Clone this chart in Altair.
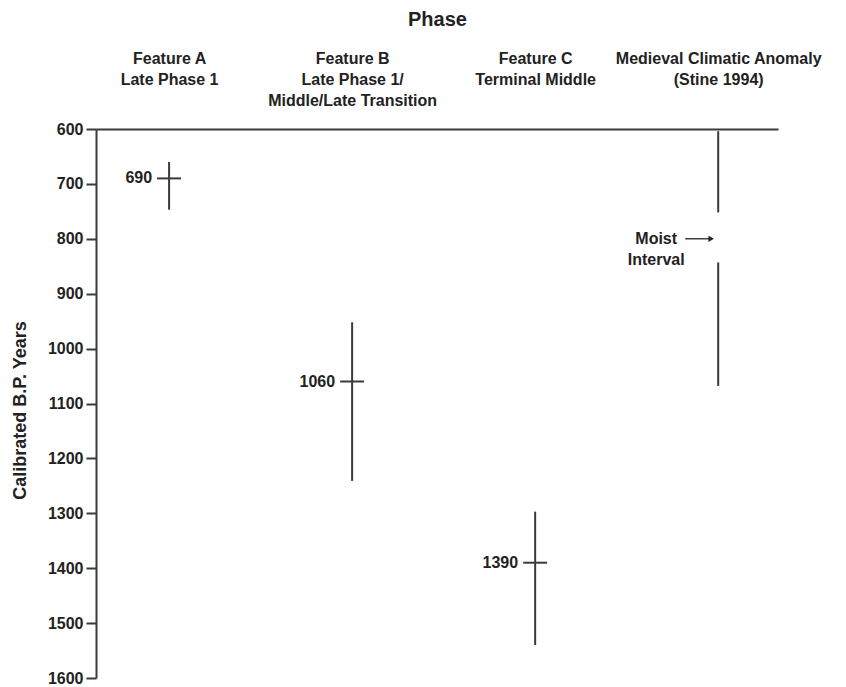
import altair as alt
import pandas as pd

# ---- data ----
phase_keys = ["A", "B", "C", "MCA"]
header_lines = [
    ["Feature A", "Late Phase 1"],
    ["Feature B", "Late Phase 1/", "Middle/Late Transition"],
    ["Feature C", "Terminal Middle"],
    ["Medieval Climatic Anomaly", "(Stine 1994)"],
]
feature_keys = ["A", "B", "C"]
date_center = [690, 1060, 1390]
range_low = [660, 952, 1297]
range_high = [747, 1241, 1540]
mca_seg_start = [604, 843]
mca_seg_end = [752, 1068]
moist_year = [800]
moist_text = ["Moist\nInterval"]
y_ticks = [600, 700, 800, 900, 1000, 1100, 1200, 1300, 1400, 1500, 1600]

FONT = "Liberation Sans, Arial, Helvetica, sans-serif"
INK = "#222222"
LINE = "#3a3a3a"

feat_df = pd.DataFrame({
    "phase": feature_keys,
    "center": date_center,
    "low": range_low,
    "high": range_high,
    "label": [str(v) for v in date_center],
})
mca_df = pd.DataFrame({
    "phase": ["MCA"] * len(mca_seg_start),
    "start": mca_seg_start,
    "end": mca_seg_end,
})
moist_df = pd.DataFrame({"phase": ["MCA"], "year": moist_year, "text": moist_text})

# multi-line header labels for the top axis
def js_arr(lines):
    return "[" + ",".join("'" + s.replace("'", "\\'") + "'" for s in lines) + "]"

label_expr = ""
for k, lines in zip(phase_keys[:-1], header_lines[:-1]):
    label_expr += f"datum.value == '{k}' ? {js_arr(lines)} : "
label_expr += js_arr(header_lines[-1])

x_scale = alt.Scale(type="point", domain=phase_keys, padding=0.363, align=0.55)
y_scale = alt.Scale(domain=[600, 1600], reverse=True, nice=False, zero=False)

x_axis = alt.Axis(
    orient="top", title="Phase", labelExpr=label_expr, labelAngle=0,
    labelBaseline="top", labelAlign="center", labelPadding=79,
    labelFont=FONT, labelFontSize=16, labelFontWeight="bold", labelColor=INK,
    labelLineHeight=21, labelLimit=0, labelOverlap=False,
    ticks=False, tickSize=0, domain=True, domainColor=LINE, domainWidth=2,
    grid=False, titleFont=FONT, titleFontSize=20, titleFontWeight="bold",
    titleColor=INK, titleY=-110, titleBaseline="middle",
)
y_axis = alt.Axis(
    values=y_ticks, title="Calibrated B.P. Years", format="d",
    labelFont=FONT, labelFontSize=16, labelFontWeight="bold", labelColor=INK,
    labelPadding=3, labelBaseline="middle",
    ticks=True, tickSize=10, tickWidth=2, tickColor=LINE,
    domain=True, domainColor=LINE, domainWidth=2, grid=False,
    titleFont=FONT, titleFontSize=18, titleFontWeight="bold", titleColor=INK,
    titleX=-76, titleY=281, titleBaseline="middle", titleAngle=270,
)

X = alt.X("phase:N", scale=x_scale, axis=x_axis, title="Phase")


def Y(field):
    return alt.Y(field, scale=y_scale, axis=y_axis, title="Calibrated B.P. Years")


ranges = alt.Chart(feat_df).mark_rule(color=LINE, strokeWidth=2).encode(
    x=X, y=Y("low:Q"), y2="high:Q",
)
crossbars = alt.Chart(feat_df).mark_tick(
    color=LINE, size=24, thickness=2, orient="horizontal", opacity=1
).encode(x=X, y=Y("center:Q"))
labels = alt.Chart(feat_df).mark_text(
    align="right", baseline="middle", dx=-17, font=FONT, fontSize=16,
    fontWeight="bold", color=INK,
).encode(x=X, y=Y("center:Q"), text="label:N")
mca = alt.Chart(mca_df).mark_rule(color=LINE, strokeWidth=2).encode(
    x=X, y=Y("start:Q"), y2="end:Q",
)
arrow_line = alt.Chart(moist_df).mark_rule(
    color=INK, strokeWidth=1.3, xOffset=-33, x2Offset=-8,
).encode(x=X, x2=alt.X2("phase:N"), y=Y("year:Q"))
arrow_head = alt.Chart(moist_df).mark_point(
    shape="triangle-right", filled=True, color=INK, size=40, opacity=1,
    xOffset=-7,
).encode(x=X, y=Y("year:Q"))
moist = alt.Chart(moist_df).mark_text(
    align="center", baseline="middle", dx=-62, lineBreak="\n", lineHeight=21,
    font=FONT, fontSize=16, fontWeight="bold", color=INK,
).encode(x=X, y=Y("year:Q"), text="text:N")

chart = alt.layer(
    ranges, crossbars, labels, mca, arrow_line, arrow_head, moist
).properties(
    width=682, height=549,
    autosize=alt.AutoSizeParams(type="none"),
    padding={"left": 88, "top": 121, "right": 50, "bottom": 8},
    background="white",
).configure_view(stroke=None)

chart.save("out.html", embed_options={"renderer": "svg", "actions": False})
